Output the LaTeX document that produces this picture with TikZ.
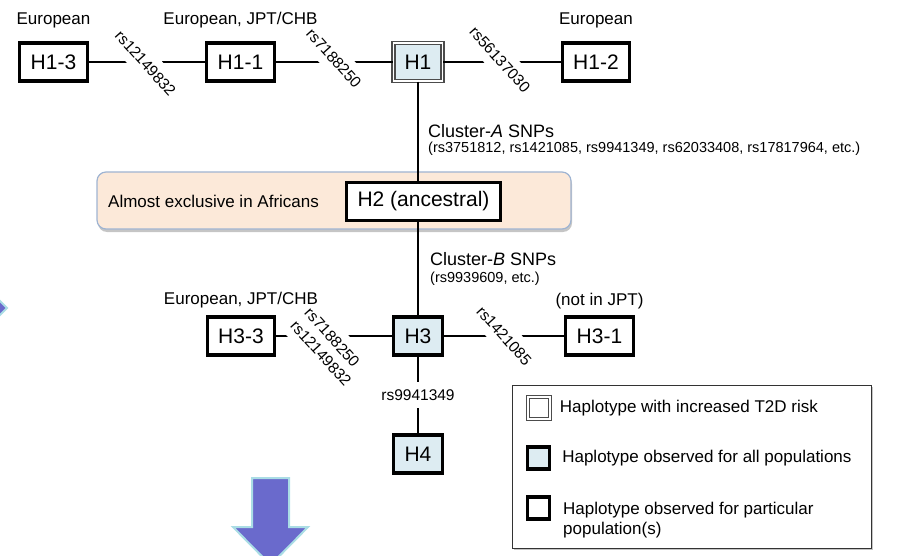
\documentclass[tikz,border=0pt]{standalone}
\usepackage{fontspec}
\setmainfont{Liberation Sans}
\usepackage{tikz}
\usetikzlibrary{positioning,calc,shadows}

\definecolor{hapblue}{HTML}{DDECF2}
\definecolor{peach}{HTML}{FCE9D9}
\definecolor{bandedge}{HTML}{9FB4D2}
\definecolor{arrowfill}{HTML}{6A6ACC}
\definecolor{arrowedge}{HTML}{AADDE5}

\begin{document}
\begin{tikzpicture}[x=1pt, y=-1pt,
        every node/.style={font=\fontsize{17}{20}\selectfont},
        hapbox/.style={rectangle, draw=black, line width=3.2pt, fill=white, minimum height=38pt, inner xsep=11pt, font=\fontsize{21}{24}\selectfont},
        allbox/.style={hapbox, fill=hapblue},
        riskbox/.style={allbox, draw=black!70, line width=1.5pt, double=white, double distance=1.6pt},
        link/.style={line width=2.8pt, draw=black},
        snp/.style={fill=white, inner xsep=1pt, inner ysep=8pt, rotate=-48, font=\fontsize{15.5}{19}\selectfont},
        poplabel/.style={inner sep=0pt},
        band/.style={rectangle, rounded corners=9pt, draw=bandedge, line width=1.2pt, fill=peach, minimum width=474pt, minimum height=57pt, drop shadow={shadow xshift=1pt, shadow yshift=-3pt, fill=black!45, opacity=0.5}},
        keybox/.style={minimum width=22pt, minimum height=22pt, inner sep=0pt},
        legendtext/.style={inner sep=0pt, align=left},
        blockarrow/.style={fill=arrowfill, draw=arrowedge, line width=2pt, line join=miter},
    ]
    \useasboundingbox (0,0) rectangle (899,556);
    \clip (0,0) rectangle (899,556);

    % block arrows
    \draw[blockarrow] (-30,271) -- (7,308) -- (-30,345) -- cycle;
    \draw[blockarrow] (252,478) -- (289,478) -- (289,527) -- (308,527) -- (270.5,565) -- (233,527) -- (252,527) -- cycle;

    % African band
    \node[band] (africa) at (334,200.5) {};
    \node[anchor=west, inner sep=0pt] (afrtext) at (108,201) {Almost exclusive in Africans};

    % haplotypes
    \node[hapbox] (H13) at (53.5,62) {H1-3};
    \node[hapbox] (H11) at (240.5,62) {H1-1};
    \node[riskbox] (H1) at (418,62) {H1};
    \node[hapbox] (H12) at (596,62) {H1-2};
    \node[hapbox] (H2) at (423.5,201.5) {H2 (ancestral)};
    \node[allbox] (H3) at (418,336) {H3};
    \node[hapbox] (H33) at (241,336) {H3-3};
    \node[hapbox] (H31) at (599.5,336) {H3-1};
    \node[allbox] (H4) at (418,454) {H4};

    % links
    \draw[link] (H13) -- node[snp, yshift=-2pt] (snp1) {rs12149832} (H11);
    \draw[link] (H11) -- node[snp, xshift=-3pt, yshift=2pt] (snp2) {rs7188250} (H1);
    \draw[link] (H1) -- node[snp, xshift=-3pt] (snp3) {rs56137030} (H12);
    \draw[link] (H1) -- (H1 |- H2.north);
    \draw[link] (H3 |- H2.south) -- (H3);
    \draw[link] (H33) -- node[snp, align=left, xshift=4pt, yshift=-12pt] (snp4) {rs7188250\\rs12149832} (H3);
    \draw[link] (H3) -- node[snp] (snp5) {rs1421085} (H31);
    \draw[link] (H3) -- node[fill=white, inner xsep=2pt, inner ysep=8pt, font=\fontsize{15.5}{19}\selectfont] (snp6) {rs9941349} (H4);

    % populations
    \node[poplabel, above=13pt of H13] (popH13) {European};
    \node[poplabel, above=13pt of H11] (popH11) {European, JPT/CHB};
    \node[poplabel, above=13pt of H12] (popH12) {European};
    \node[poplabel, above=7pt of H33] (popH33) {European, JPT/CHB};
    \node[poplabel, above=6pt of H31] (popH31) {(not in JPT)};

    % SNP clusters
    \node[anchor=base west, inner sep=0pt, font=\fontsize{18}{21}\selectfont] (clusterA) at (428,138) {Cluster-\textit{A} SNPs};
    \node[anchor=base west, inner sep=0pt, font=\fontsize{14.5}{17}\selectfont] (clusterAlist) at (428,152.5) {(rs3751812, rs1421085, rs9941349, rs62033408, rs17817964, etc.)};
    \node[anchor=base west, inner sep=0pt, font=\fontsize{18}{21}\selectfont] (clusterB) at (430,265) {Cluster-\textit{B} SNPs};
    \node[anchor=base west, inner sep=0pt, font=\fontsize{14.5}{17}\selectfont] (clusterBlist) at (430,282) {(rs9939609, etc.)};

    % legend
    \node[draw=black!80, line width=1pt, fill=white, minimum width=359pt, minimum height=163pt, drop shadow={shadow xshift=2pt, shadow yshift=-2pt, fill=black!45, opacity=0.5}] (legend) at (691.5,466.5) {};
    \node[riskbox, keybox, fill=white] (keyrisk) at (539,408) {};
    \node[allbox, keybox] (keyall) at (538.5,458) {};
    \node[hapbox, keybox] (keypop) at (538.5,508) {};
    \node[legendtext, right=9pt of keyrisk] (txtrisk) {Haplotype with increased T2D risk};
    \node[legendtext, right=11pt of keyall] (txtall) {Haplotype observed for all populations};
    \node[legendtext, anchor=north west] (txtpop) at (563,501.5) {Haplotype observed for particular\\population(s)};

\end{tikzpicture}
\end{document}
